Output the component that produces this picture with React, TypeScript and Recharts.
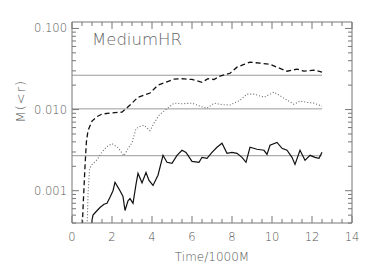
import React from 'react';
import { LineChart, Line, XAxis, YAxis } from 'recharts';

// time in units of 1000M, mass within r
const dashedT = [0.5, 0.55, 0.6, 0.65, 0.72, 0.8, 1.0, 1.25, 1.5, 2.0, 2.5, 2.75, 3.0, 3.3, 3.6, 3.9, 4.3, 4.75, 5.1, 5.5, 6.0, 6.5, 6.8, 7.1, 7.4, 7.9, 8.25, 8.6, 8.9, 9.4, 9.9, 10.25, 10.75, 11.25, 11.6, 12.1, 12.5];
const dashedM = [0.0003, 0.0006, 0.0011, 0.002, 0.004, 0.0055, 0.0072, 0.0082, 0.0088, 0.0091, 0.0093, 0.0105, 0.012, 0.0142, 0.015, 0.016, 0.02, 0.022, 0.0237, 0.024, 0.0235, 0.0217, 0.024, 0.0235, 0.0258, 0.028, 0.0333, 0.036, 0.0384, 0.0373, 0.0362, 0.0333, 0.0297, 0.0315, 0.0297, 0.0306, 0.029];

const dottedT = [0.75, 0.8, 0.88, 1.0, 1.25, 1.5, 1.75, 2.0, 2.3, 2.6, 2.8, 3.0, 3.2, 3.4, 3.6, 3.9, 4.1, 4.35, 4.65, 5.1, 5.5, 6.0, 6.4, 6.75, 7.1, 7.5, 7.9, 8.4, 8.75, 9.1, 9.6, 10.1, 10.6, 11.1, 11.4, 11.8, 12.1, 12.5];
const dottedM = [0.0003, 0.0009, 0.0019, 0.0021, 0.0024, 0.003, 0.0035, 0.0038, 0.0034, 0.0027, 0.0033, 0.0039, 0.0058, 0.0062, 0.0064, 0.0055, 0.0068, 0.0085, 0.0098, 0.012, 0.0118, 0.012, 0.011, 0.0104, 0.012, 0.0115, 0.0114, 0.013, 0.0155, 0.0155, 0.0142, 0.0164, 0.0138, 0.0116, 0.0127, 0.0122, 0.012, 0.011];

const solidT = [0.95, 1.0, 1.05, 1.2, 1.4, 1.6, 1.75, 1.9, 2.05, 2.15, 2.3, 2.4, 2.55, 2.65, 2.8, 2.9, 3.05, 3.2, 3.3, 3.5, 3.7, 3.85, 4.05, 4.3, 4.55, 4.75, 5.0, 5.25, 5.5, 5.7, 6.0, 6.35, 6.5, 6.75, 7.0, 7.25, 7.5, 7.75, 8.0, 8.25, 8.5, 8.7, 8.9, 9.25, 9.6, 9.75, 9.9, 10.25, 10.5, 10.75, 11.0, 11.15, 11.4, 11.65, 11.9, 12.15, 12.35, 12.5];
const solidM = [0.0003, 0.00043, 0.0005, 0.00055, 0.00062, 0.00068, 0.0007, 0.00083, 0.001, 0.00127, 0.0011, 0.001, 0.00085, 0.00057, 0.00075, 0.0008, 0.0007, 0.0012, 0.00164, 0.00125, 0.00168, 0.00134, 0.00116, 0.00155, 0.00273, 0.00224, 0.00217, 0.00273, 0.00315, 0.00297, 0.0023, 0.00224, 0.00258, 0.00251, 0.00297, 0.00343, 0.00384, 0.00289, 0.00297, 0.00289, 0.00258, 0.00224, 0.00343, 0.00324, 0.00315, 0.0028, 0.00363, 0.00394, 0.00333, 0.00315, 0.00258, 0.00211, 0.00315, 0.00237, 0.00273, 0.00258, 0.00251, 0.00297];

// horizontal reference levels
const levelT = [0, 12.5];
const levels = [0.0265, 0.0102, 0.0027];

const xMajor = [0, 2, 4, 6, 8, 10, 12, 14];
const xAll = [0, 0.5, 1, 1.5, 2, 2.5, 3, 3.5, 4, 4.5, 5, 5.5, 6, 6.5, 7, 7.5, 8, 8.5, 9, 9.5, 10, 10.5, 11, 11.5, 12, 12.5, 13, 13.5, 14];
const yMajor = [0.001, 0.01, 0.1];
const yLabels = ['0.001', '0.010', '0.100'];
const yAll = [0.0004, 0.0005, 0.0006, 0.0007, 0.0008, 0.0009, 0.001, 0.002, 0.003, 0.004, 0.005, 0.006, 0.007, 0.008, 0.009, 0.01, 0.02, 0.03, 0.04, 0.05, 0.06, 0.07, 0.08, 0.09, 0.1];

const toRows = (ts: number[], ms: number[]) => ts.map((t, i) => ({ t, m: ms[i] }));

const AX = '#777';
const TXT = '#555';
const FONT = 'DejaVu Sans';

const BottomTick = (p: any) => {
    const major = xMajor.includes(p.payload.value);
    return (
        <g>
            <line x1={p.x} x2={p.x} y1={p.y} y2={p.y - (major ? 7 : 4)} stroke={AX} />
            {major && (
                <text x={p.x} y={p.y + 18} textAnchor="middle" fill={TXT} fontSize={11.5} fontFamily={FONT} fontWeight={200}>
                    {p.payload.value}
                </text>
            )}
        </g>
    );
};

const TopTick = (p: any) => {
    const major = xMajor.includes(p.payload.value);
    return <line x1={p.x} x2={p.x} y1={p.y} y2={p.y + (major ? 7 : 4)} stroke={AX} />;
};

const LeftTick = (p: any) => {
    const idx = yMajor.indexOf(p.payload.value);
    return (
        <g>
            <line x1={p.x} x2={p.x + (idx >= 0 ? 7 : 4)} y1={p.y} y2={p.y} stroke={AX} />
            {idx >= 0 && (
                <text x={p.x - 5} y={p.y + 4} textAnchor="end" fill={TXT} fontSize={11.5} fontFamily={FONT} fontWeight={200}>
                    {yLabels[idx]}
                </text>
            )}
        </g>
    );
};

const RightTick = (p: any) => {
    const major = yMajor.includes(p.payload.value);
    return <line x1={p.x} x2={p.x - (major ? 7 : 4)} y1={p.y} y2={p.y} stroke={AX} />;
};

const App: React.FC = () => {
    return (
        <div style={{ position: 'absolute', left: 0, top: 0, width: 374, height: 270, background: '#fff' }}>
            <LineChart width={374} height={270} margin={{ top: 21, right: 21, left: 0, bottom: 0 }}>
                <XAxis xAxisId="b" dataKey="t" type="number" domain={[0, 14]} ticks={xAll} interval={0}
                    allowDataOverflow height={47} tickSize={0} tickMargin={0} tickLine={false}
                    axisLine={{ stroke: AX }} tick={BottomTick}
                    label={{ value: 'Time/1000M', position: 'insideBottom', offset: 9, fill: TXT, fontSize: 12, fontFamily: FONT, fontWeight: 200 }} />
                <XAxis xAxisId="top" orientation="top" dataKey="t" type="number" domain={[0, 14]} ticks={xAll} interval={0}
                    allowDataOverflow height={1} tickSize={0} tickMargin={0} tickLine={false}
                    axisLine={{ stroke: AX }} tick={TopTick} />
                <YAxis yAxisId="l" scale="log" type="number" domain={[0.0004, 0.12]} ticks={yAll} interval={0}
                    allowDataOverflow width={72} tickSize={0} tickMargin={0} tickLine={false}
                    axisLine={{ stroke: AX }} tick={LeftTick}
                    label={{ value: 'M(<r)', angle: -90, position: 'insideLeft', offset: 20, fill: TXT, fontSize: 13, fontFamily: FONT, fontWeight: 200, letterSpacing: 1 }} />
                <YAxis yAxisId="r" orientation="right" scale="log" type="number" domain={[0.0004, 0.12]} ticks={yAll} interval={0}
                    allowDataOverflow width={1} tickSize={0} tickMargin={0} tickLine={false}
                    axisLine={{ stroke: AX }} tick={RightTick} />

                {levels.map((v) => (
                    <Line key={v} xAxisId="top" yAxisId="r" data={levelT.map((t) => ({ t, m: v }))} dataKey="m"
                        stroke="#999" strokeWidth={1} dot={false} isAnimationActive={false} />
                ))}
                <Line xAxisId="b" yAxisId="l" data={toRows(dashedT, dashedM)} dataKey="m" stroke="#111"
                    strokeWidth={1.3} strokeDasharray="5 3" dot={false} isAnimationActive={false} />
                <Line xAxisId="b" yAxisId="l" data={toRows(dottedT, dottedM)} dataKey="m" stroke="#666"
                    strokeWidth={1.1} strokeDasharray="1 2" dot={false} isAnimationActive={false} />
                <Line xAxisId="b" yAxisId="l" data={toRows(solidT, solidM)} dataKey="m" stroke="#111"
                    strokeWidth={1.2} dot={false} isAnimationActive={false} />
            </LineChart>
            <div style={{ position: 'absolute', left: 92, top: 30, fontFamily: FONT, fontWeight: 200, fontSize: 16.5, color: '#666' }}>
                MediumHR
            </div>
        </div>
    );
};

export default App;
